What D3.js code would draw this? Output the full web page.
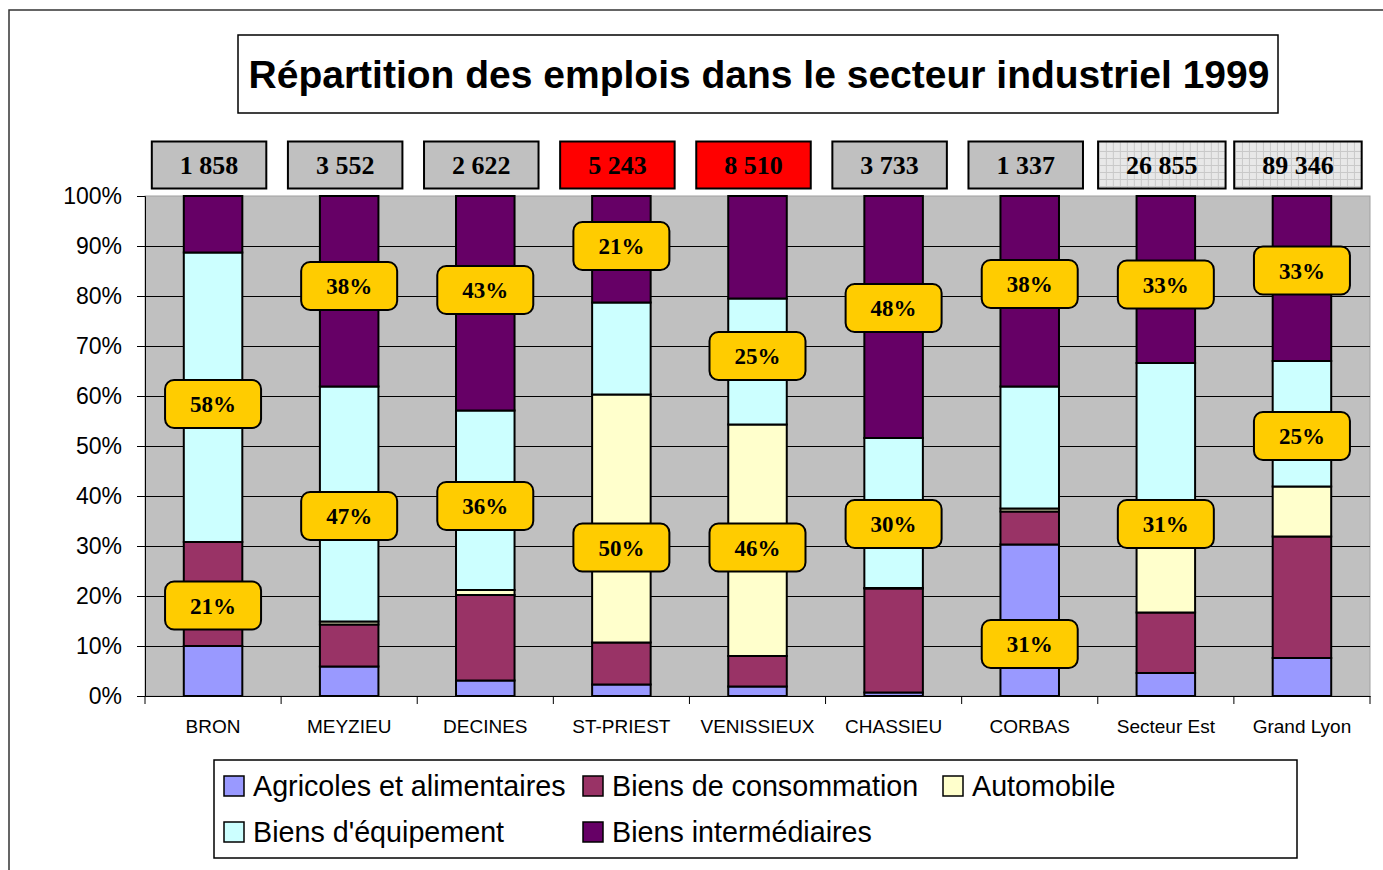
<!DOCTYPE html>
<html>
<head>
<meta charset="utf-8">
<script src="https://cdn.jsdelivr.net/npm/d3@7"></script>
<style>
  body { margin: 0; background: #fff; }
  text { font-family: "Liberation Sans", Arial, sans-serif; }
  .serif { font-family: "Liberation Serif", "Times New Roman", serif; font-weight: bold; }
</style>
</head>
<body>
<div id="chart"></div>
<script>
// data (share of jobs, %)
const categories = ["BRON", "MEYZIEU", "DECINES", "ST-PRIEST", "VENISSIEUX", "CHASSIEU", "CORBAS", "Secteur Est", "Grand Lyon"];
const seriesNames = ["Agricoles et alimentaires", "Biens de consommation", "Automobile", "Biens d'équipement", "Biens intermédiaires"];
const agricoles     = [10.0, 5.9, 3.1, 2.3, 1.9, 0.7, 30.3, 4.6, 7.6];
const consommation  = [20.8, 8.4, 17.1, 8.4, 6.1, 20.8, 6.6, 12.1, 24.3];
const automobile    = [0.0, 0.6, 1.0, 49.6, 46.3, 0.1, 0.6, 18.9, 10.0];
const equipement    = [57.9, 47.0, 35.9, 18.4, 25.2, 30.0, 24.4, 31.0, 25.1];
const intermediaires = [11.3, 38.1, 42.9, 21.3, 20.5, 48.4, 38.1, 33.4, 33.0];
const totals = [1858, 3552, 2622, 5243, 8510, 3733, 1337, 26855, 89346];
const highlighted = ["ST-PRIEST", "VENISSIEUX"];
const aggregates = ["Secteur Est", "Grand Lyon"];
const yTicks = [0, 10, 20, 30, 40, 50, 60, 70, 80, 90, 100];
// callouts: category, text, level (%) where the box sits
const calloutCats  = ["BRON", "BRON", "MEYZIEU", "MEYZIEU", "DECINES", "DECINES", "ST-PRIEST", "ST-PRIEST", "VENISSIEUX", "VENISSIEUX", "CHASSIEU", "CHASSIEU", "CORBAS", "CORBAS", "Secteur Est", "Secteur Est", "Grand Lyon", "Grand Lyon"];
const calloutTexts = ["58%", "21%", "38%", "47%", "43%", "36%", "21%", "50%", "25%", "46%", "48%", "30%", "38%", "31%", "33%", "31%", "33%", "25%"];
const calloutLevel = [58.4, 18.1, 82.0, 36.0, 81.2, 38.0, 90.0, 29.7, 68.0, 29.7, 77.6, 34.4, 82.4, 10.4, 82.3, 34.4, 85.1, 52.0];

const keys = ["agri", "conso", "auto", "equip", "inter"];
const colors = ["#9999FF", "#993366", "#FFFFCC", "#CCFFFF", "#660066"];
const seriesArrays = [agricoles, consommation, automobile, equipement, intermediaires];

const W = 1383, H = 870;
const plot = { left: 145, right: 1370, top: 196, bottom: 696 };

const svg = d3.select("#chart").append("svg")
  .attr("width", W).attr("height", H);

const defs = svg.append("defs");
const pat = defs.append("pattern").attr("id", "grid")
  .attr("width", 7).attr("height", 7).attr("patternUnits", "userSpaceOnUse");
pat.append("rect").attr("width", 7).attr("height", 7).attr("fill", "#E8E8E8");
pat.append("path").attr("d", "M0,0.5H7M0.5,0V7").attr("stroke", "#C9C9C9").attr("stroke-width", 1);

// outer frame
svg.append("path").attr("d", `M9,${H}V10H${W}`).attr("fill", "none").attr("stroke", "#333").attr("stroke-width", 1.5);

const x = d3.scaleBand().domain(categories).range([plot.left, plot.right]);
const y = d3.scaleLinear().domain([0, 100]).range([plot.bottom, plot.top]);
const color = d3.scaleOrdinal().domain(keys).range(colors);
const barW = x.bandwidth() * 0.43;

// plot background
svg.append("rect")
  .attr("x", plot.left).attr("y", plot.top)
  .attr("width", plot.right - plot.left).attr("height", plot.bottom - plot.top)
  .attr("fill", "#C0C0C0").attr("stroke", "#A0A0A0").attr("stroke-width", 1);

// gridlines
svg.append("g").selectAll("line")
  .data(yTicks.filter(d => d > 0 && d < 100))
  .join("line")
  .attr("x1", plot.left).attr("x2", plot.right)
  .attr("y1", d => Math.round(y(d)) + 0.5).attr("y2", d => Math.round(y(d)) + 0.5)
  .attr("stroke", "#000").attr("stroke-width", 1);

// stacked bars
const table = categories.map((c, i) => {
  const row = { cat: c };
  keys.forEach((k, j) => row[k] = seriesArrays[j][i]);
  return row;
});
const stacked = d3.stack().keys(keys)(table);

svg.append("g").selectAll("g")
  .data(stacked)
  .join("g")
  .attr("fill", d => color(d.key))
  .selectAll("rect")
  .data(d => d)
  .join("rect")
  .attr("x", d => x(d.data.cat) + (x.bandwidth() - barW) / 2)
  .attr("y", d => y(d[1]))
  .attr("width", barW)
  .attr("height", d => y(d[0]) - y(d[1]))
  .attr("stroke", "#000").attr("stroke-width", 2);

// y axis
const yAxis = svg.append("g")
  .attr("transform", `translate(${plot.left},0)`)
  .call(d3.axisLeft(y).tickValues(yTicks).tickFormat(d => d + "%").tickSize(8).tickPadding(15));
yAxis.selectAll("text").attr("font-size", 23).attr("fill", "#000")
  .style("font-family", "'Liberation Sans', Arial, sans-serif");
yAxis.selectAll("line, path").attr("stroke", "#000");

// x axis
const xAxis = svg.append("g")
  .attr("transform", `translate(0,${plot.bottom})`)
  .call(d3.axisBottom(x).tickSize(0).tickPadding(24));
xAxis.select(".domain").attr("stroke", "#000");
xAxis.selectAll("text").attr("font-size", 19).attr("fill", "#000")
  .style("font-family", "'Liberation Sans', Arial, sans-serif");
xAxis.selectAll(".sep")
  .data(categories.map(c => x(c)).concat([plot.right]))
  .join("line").attr("class", "sep")
  .attr("x1", d => d).attr("x2", d => d)
  .attr("y1", 0).attr("y2", 8)
  .attr("stroke", "#000");

// callouts
const callouts = calloutCats.map((c, i) => ({ cat: c, text: calloutTexts[i], level: calloutLevel[i] }));
const cg = svg.append("g").selectAll("g")
  .data(callouts)
  .join("g")
  .attr("transform", d => `translate(${x(d.cat) + x.bandwidth() / 2},${y(d.level)})`);
cg.append("rect")
  .attr("x", -48).attr("y", -24).attr("width", 96).attr("height", 48)
  .attr("rx", 9).attr("fill", "#FFCC00").attr("stroke", "#000").attr("stroke-width", 2);
cg.append("text").attr("class", "serif")
  .attr("text-anchor", "middle").attr("dy", "0.35em")
  .attr("font-size", 23)
  .text(d => d.text);

// totals above bars
const fmt = d => d3.format(",")(d).replace(/,/g, " ");
const tg = svg.append("g").selectAll("g")
  .data(categories.map((c, i) => ({ cat: c, total: totals[i] })))
  .join("g")
  .attr("transform", d => `translate(${x(d.cat) + x.bandwidth() / 2 - 4},165)`);
tg.each(function (d) {
  const g = d3.select(this);
  const r = g.append("rect");
  const t = g.append("text").attr("class", "serif")
    .attr("text-anchor", "middle").attr("dy", "0.35em")
    .attr("font-size", 26).text(fmt(d.total));
  const w = t.node().getComputedTextLength() + 56;
  r.attr("x", -w / 2).attr("y", -23.5).attr("width", w).attr("height", 47)
    .attr("fill", highlighted.includes(d.cat) ? "#FF0000" : aggregates.includes(d.cat) ? "url(#grid)" : "#C0C0C0")
    .attr("stroke", "#000").attr("stroke-width", 2);
});

// title
svg.append("rect").attr("x", 238).attr("y", 35).attr("width", 1040).attr("height", 78)
  .attr("fill", "#fff").attr("stroke", "#000").attr("stroke-width", 1.5);
svg.append("text")
  .attr("x", 759).attr("y", 88)
  .attr("text-anchor", "middle")
  .attr("font-size", 39).attr("font-weight", "bold")
  .text("Répartition des emplois dans le secteur industriel 1999");

// legend
svg.append("rect").attr("x", 214).attr("y", 760).attr("width", 1083).attr("height", 98)
  .attr("fill", "#fff").attr("stroke", "#000").attr("stroke-width", 1.5);
const legendPos = [[224, 786], [583, 786], [943, 786], [224, 832], [583, 832]];
const lg = svg.append("g").selectAll("g")
  .data(seriesNames)
  .join("g")
  .attr("transform", (d, i) => `translate(${legendPos[i][0]},${legendPos[i][1]})`);
lg.append("rect")
  .attr("x", 0).attr("y", -10).attr("width", 20).attr("height", 20)
  .attr("fill", (d, i) => colors[i]).attr("stroke", "#000").attr("stroke-width", 1.5);
lg.append("text")
  .attr("x", 29).attr("dy", "0.36em")
  .attr("font-size", 28.7)
  .text(d => d);
</script>
</body>
</html>
